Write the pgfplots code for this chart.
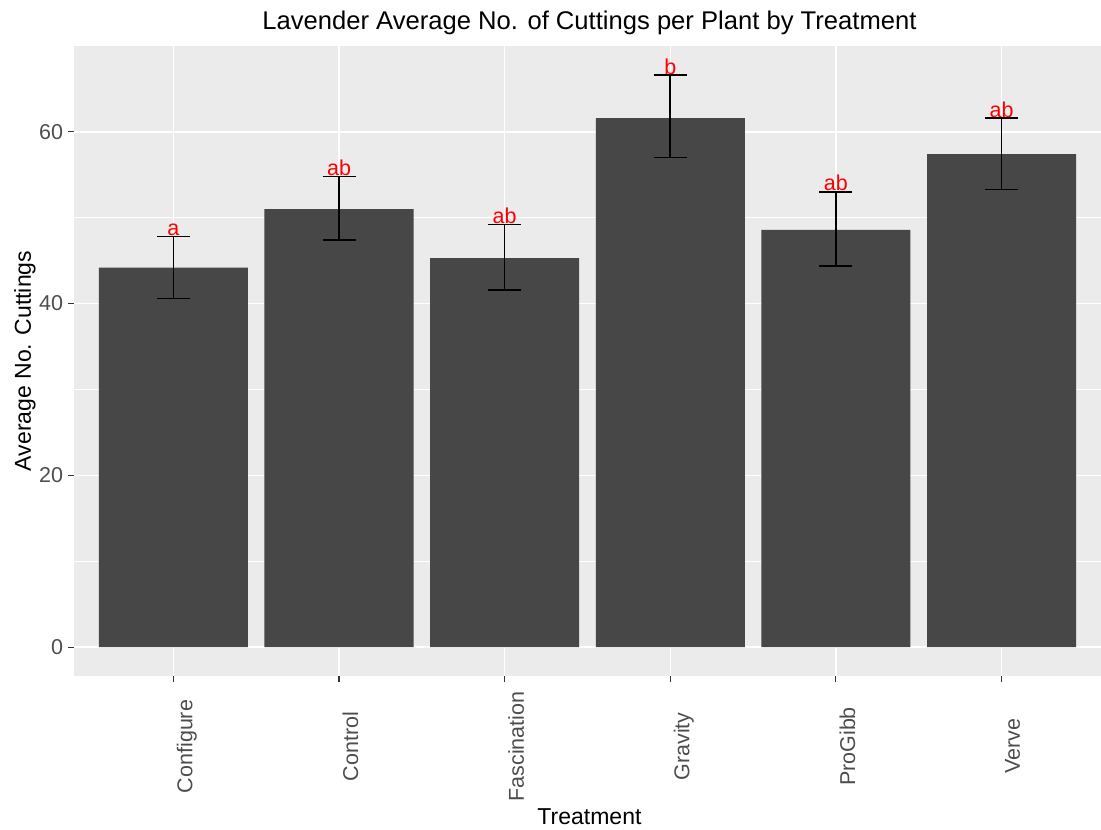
\documentclass[border=0pt]{standalone}
\usepackage{pgfplots}
\usepackage{pgfplotstable}
\pgfplotsset{compat=1.18}
\usepackage{fontspec}
\setmainfont{Liberation Sans}
\definecolor{panelbg}{HTML}{EBEBEB}
\definecolor{barc}{HTML}{474747}
\definecolor{tickc}{HTML}{333333}
\definecolor{ticklab}{HTML}{4D4D4D}
\pgfplotstableread{
x y ep em lab
1 44.2 3.6 3.6 a
2 51.0 3.8 3.6 ab
3 45.3 3.9 3.7 ab
4 61.6 5.0 4.6 b
5 48.6 4.4 4.2 ab
6 57.4 4.2 4.1 ab
}\datatable
\begin{document}
\begin{tikzpicture}[x=1pt,y=1pt]
\useasboundingbox (-74,-154) rectangle (1027,676);
\begin{axis}[
  at={(0,0)}, anchor=south west,
  scale only axis, width=1027pt, height=630pt,
  xmin=0.4, xmax=6.6, ymin=-3.37, ymax=70.0,
  axis background/.style={fill=panelbg},
  axis line style={draw=none},
  grid=both,
  major grid style={white, line width=1.5pt},
  minor grid style={white, line width=0.8pt},
  xtick={1,2,3,4,5,6},
  xticklabels={Configure,Control,Fascination,Gravity,ProGibb,Verve},
  ytick={0,20,40,60},
  minor ytick={10,30,50},
  xtick pos=bottom, ytick pos=left,
  tick align=outside,
  major tick length=5.5pt, minor tick length=0pt,
  tick style={tickc, line width=1.1pt},
  /pgf/number format/assume math mode=true,
  every tick label/.append style={font=\fontsize{21.5}{24}\selectfont, text=ticklab},
  yticklabel style={xshift=-2pt},
  xticklabel style={yshift=-65pt, rotate=90, anchor=north},
  title={Lavender Average No. of Cuttings per Plant by Treatment},
  title style={font=\fontsize{25.6}{28}\selectfont, at={(axis description cs:0.5,1)}, anchor=center, yshift=17pt, xshift=2pt},
  xlabel={Treatment},
  xlabel style={font=\fontsize{23}{26}\selectfont, at={(axis description cs:0.5,0)}, anchor=center, yshift=-141pt, xshift=2pt},
  ylabel={Average No. Cuttings},
  ylabel style={font=\fontsize{23}{26}\selectfont, at={(axis description cs:-0.0477,0.5)}, anchor=center},
]
\addplot[ybar, bar width=0.9, fill=barc, draw=none, bar shift=0pt] table[x=x, y=y] {\datatable};
\addplot[draw=none, mark=none,
  error bars/.cd, y dir=both, y explicit,
  error bar style={black, line width=1.6pt},
  error mark options={black, rotate=90, mark size=16.5pt, line width=1.6pt}]
  table[x=x, y=y, y error plus=ep, y error minus=em] {\datatable};
\addplot[draw=none, mark=none, nodes near coords, point meta=explicit symbolic,
  every node near coord/.append style={anchor=base, inner sep=0pt, yshift=1pt, text=red, font=\fontsize{21.5}{24}\selectfont}]
  table[x=x, y expr=\thisrow{y}+\thisrow{ep}, meta=lab] {\datatable};
\end{axis}
\end{tikzpicture}
\end{document}
